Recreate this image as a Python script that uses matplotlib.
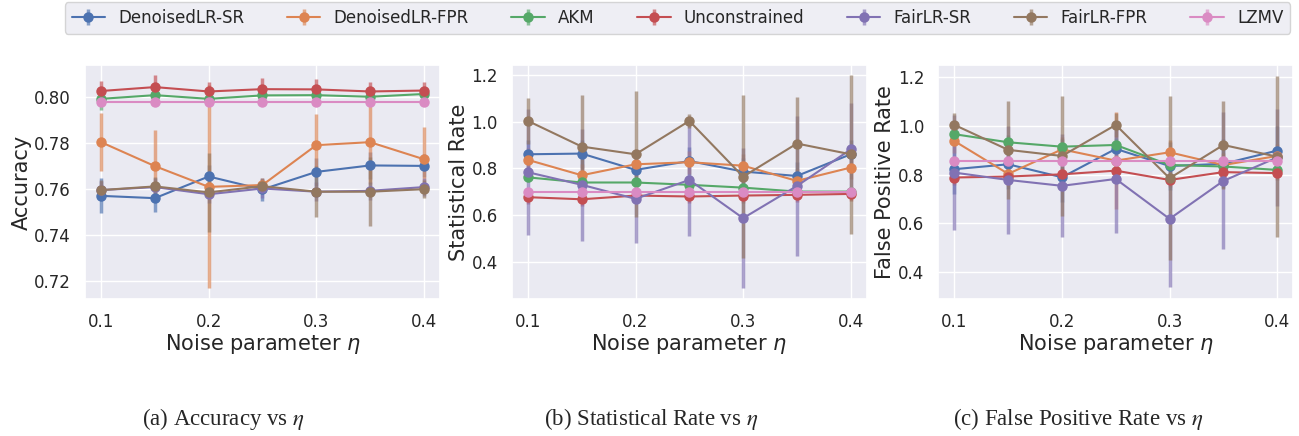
import matplotlib
matplotlib.use("Agg")
import matplotlib.pyplot as plt
import seaborn as sns

sns.set_theme(style="darkgrid", palette="deep")
plt.rcParams['font.family'] = ['DejaVu Sans']

# noise levels
eta = [0.1, 0.15, 0.2, 0.25, 0.3, 0.35, 0.4]
methods = ["DenoisedLR-SR", "DenoisedLR-FPR", "AKM", "Unconstrained",
           "FairLR-SR", "FairLR-FPR", "LZMV"]
colors = ["#4C72B0", "#DD8452", "#55A868", "#C44E52", "#8172B3", "#937860", "#DA8BC3"]

# (a) accuracy
acc_mean = {
    "DenoisedLR-SR":  [0.7570, 0.7560, 0.7654, 0.7598, 0.7674, 0.7702, 0.7700],
    "DenoisedLR-FPR": [0.7803, 0.7699, 0.7609, 0.7617, 0.7790, 0.7803, 0.7729],
    "AKM":            [0.7991, 0.8007, 0.7991, 0.8006, 0.8007, 0.8000, 0.8012],
    "Unconstrained":  [0.8025, 0.8042, 0.8023, 0.8033, 0.8032, 0.8023, 0.8027],
    "FairLR-SR":      [0.7595, 0.7608, 0.7577, 0.7602, 0.7588, 0.7592, 0.7608],
    "FairLR-FPR":     [0.7595, 0.7611, 0.7585, 0.7612, 0.7588, 0.7588, 0.7599],
    "LZMV":           [0.7978, 0.7978, 0.7978, 0.7978, 0.7978, 0.7978, 0.7978],
}
acc_err = {
    "DenoisedLR-SR":  [0.0076, 0.0058, 0.005, 0.005, 0.006, 0.006, 0.005],
    "DenoisedLR-FPR": [0.0127, 0.0155, 0.044, 0.003, 0.0137, 0.018, 0.014],
    "AKM":            [0.005, 0.003, 0.003, 0.003, 0.003, 0.003, 0.003],
    "Unconstrained":  [0.0043, 0.0052, 0.004, 0.005, 0.0043, 0.004, 0.0035],
    "FairLR-SR":      [0.004, 0.004, 0.004, 0.004, 0.004, 0.004, 0.004],
    "FairLR-FPR":     [0.0045, 0.004, 0.017, 0.003, 0.011, 0.015, 0.004],
    "LZMV":           [0.0005, 0.0005, 0.0005, 0.0005, 0.0005, 0.0005, 0.0005],
}

# (b) statistical rate
sr_mean = {
    "DenoisedLR-SR":  [0.860, 0.863, 0.793, 0.831, 0.786, 0.767, 0.860],
    "DenoisedLR-FPR": [0.836, 0.770, 0.817, 0.826, 0.811, 0.746, 0.803],
    "AKM":            [0.761, 0.739, 0.739, 0.729, 0.717, 0.700, 0.700],
    "Unconstrained":  [0.676, 0.667, 0.683, 0.679, 0.683, 0.686, 0.690],
    "FairLR-SR":      [0.783, 0.729, 0.669, 0.750, 0.586, 0.724, 0.881],
    "FairLR-FPR":     [1.003, 0.893, 0.860, 1.003, 0.764, 0.906, 0.860],
    "LZMV":           [0.700, 0.700, 0.700, 0.700, 0.700, 0.700, 0.700],
}
sr_err = {
    "DenoisedLR-SR":  [0.06, 0.06, 0.06, 0.06, 0.06, 0.06, 0.06],
    "DenoisedLR-FPR": [0.05, 0.05, 0.05, 0.05, 0.05, 0.05, 0.05],
    "AKM":            [0.02, 0.02, 0.02, 0.02, 0.02, 0.02, 0.02],
    "Unconstrained":  [0.03, 0.03, 0.03, 0.03, 0.03, 0.03, 0.03],
    "FairLR-SR":      [0.27, 0.24, 0.19, 0.24, 0.30, 0.30, 0.20],
    "FairLR-FPR":     [0.10, 0.22, 0.27, 0.03, 0.35, 0.20, 0.34],
    "LZMV":           [0.005, 0.005, 0.005, 0.005, 0.005, 0.005, 0.005],
}

# (c) false positive rate
fpr_mean = {
    "DenoisedLR-SR":  [0.822, 0.842, 0.789, 0.905, 0.835, 0.844, 0.898],
    "DenoisedLR-FPR": [0.937, 0.803, 0.903, 0.857, 0.891, 0.839, 0.876],
    "AKM":            [0.965, 0.932, 0.914, 0.921, 0.839, 0.833, 0.819],
    "Unconstrained":  [0.788, 0.792, 0.801, 0.816, 0.778, 0.810, 0.806],
    "FairLR-SR":      [0.808, 0.778, 0.754, 0.782, 0.619, 0.774, 0.870],
    "FairLR-FPR":     [1.003, 0.901, 0.876, 1.003, 0.785, 0.921, 0.873],
    "LZMV":           [0.856, 0.856, 0.856, 0.856, 0.856, 0.856, 0.856],
}
fpr_err = {
    "DenoisedLR-SR":  [0.10, 0.10, 0.10, 0.10, 0.10, 0.10, 0.10],
    "DenoisedLR-FPR": [0.05, 0.05, 0.05, 0.197, 0.05, 0.05, 0.05],
    "AKM":            [0.03, 0.03, 0.03, 0.03, 0.03, 0.03, 0.03],
    "Unconstrained":  [0.03, 0.03, 0.03, 0.03, 0.03, 0.03, 0.03],
    "FairLR-SR":      [0.236, 0.22, 0.21, 0.22, 0.28, 0.28, 0.20],
    "FairLR-FPR":     [0.05, 0.20, 0.245, 0.05, 0.335, 0.18, 0.33],
    "LZMV":           [0.005, 0.005, 0.005, 0.005, 0.005, 0.005, 0.005],
}

panels = [
    (acc_mean, acc_err, "Accuracy", (0.7122, 0.8138), [0.72, 0.74, 0.76, 0.78, 0.80], "{:.2f}",
     "(a) Accuracy vs $\\eta$"),
    (sr_mean, sr_err, "Statistical Rate", (0.239, 1.243), [0.4, 0.6, 0.8, 1.0, 1.2], "{:.1f}",
     "(b) Statistical Rate vs $\\eta$"),
    (fpr_mean, fpr_err, "False Positive Rate", (0.291, 1.248), [0.4, 0.6, 0.8, 1.0, 1.2], "{:.1f}",
     "(c) False Positive Rate vs $\\eta$"),
]

fig = plt.figure(figsize=(12.99, 4.36), dpi=100)
lefts = [0.0654, 0.394, 0.7223]
width = 0.2733
cap_x = [223 / 1299, 651 / 1299, 1078 / 1299]

handles = []
for i, (means, errs, ylab, ylim, yt, fmt, cap) in enumerate(panels):
    ax = fig.add_axes([lefts[i], 0.314, width, 0.537])
    for m, c in zip(methods, colors):
        h = ax.errorbar(eta, means[m], yerr=errs[m], color=c, marker='o', ms=6.5,
                        lw=1.5, elinewidth=2.5, label=m)
        for coll in h[2]:
            coll.set_alpha(0.65)
        if i == 0:
            handles.append(h)
    ax.set_xlim(0.085, 0.415)
    ax.set_ylim(*ylim)
    ax.set_xticks([0.1, 0.2, 0.3, 0.4])
    ax.set_yticks(yt)
    ax.set_yticklabels([fmt.format(v) for v in yt])
    ax.tick_params(labelsize=12, pad=4)
    ax.set_xlabel("Noise parameter $\\eta$", fontsize=15, labelpad=1)
    ax.set_ylabel(ylab, fontsize=15, labelpad=2)
    fig.text(cap_x[i], 0.04, cap, ha='center', va='center', fontsize=16.5,
             family='Liberation Serif', math_fontfamily='stix')

fig.legend(handles, methods, loc='upper left', ncol=7, mode='expand',
           bbox_to_anchor=(65 / 1299, 0.995, 1225 / 1299, 0.0), fontsize=12,
           frameon=True, borderaxespad=0, handlelength=2.0)

fig.savefig("out.png", dpi=100)
